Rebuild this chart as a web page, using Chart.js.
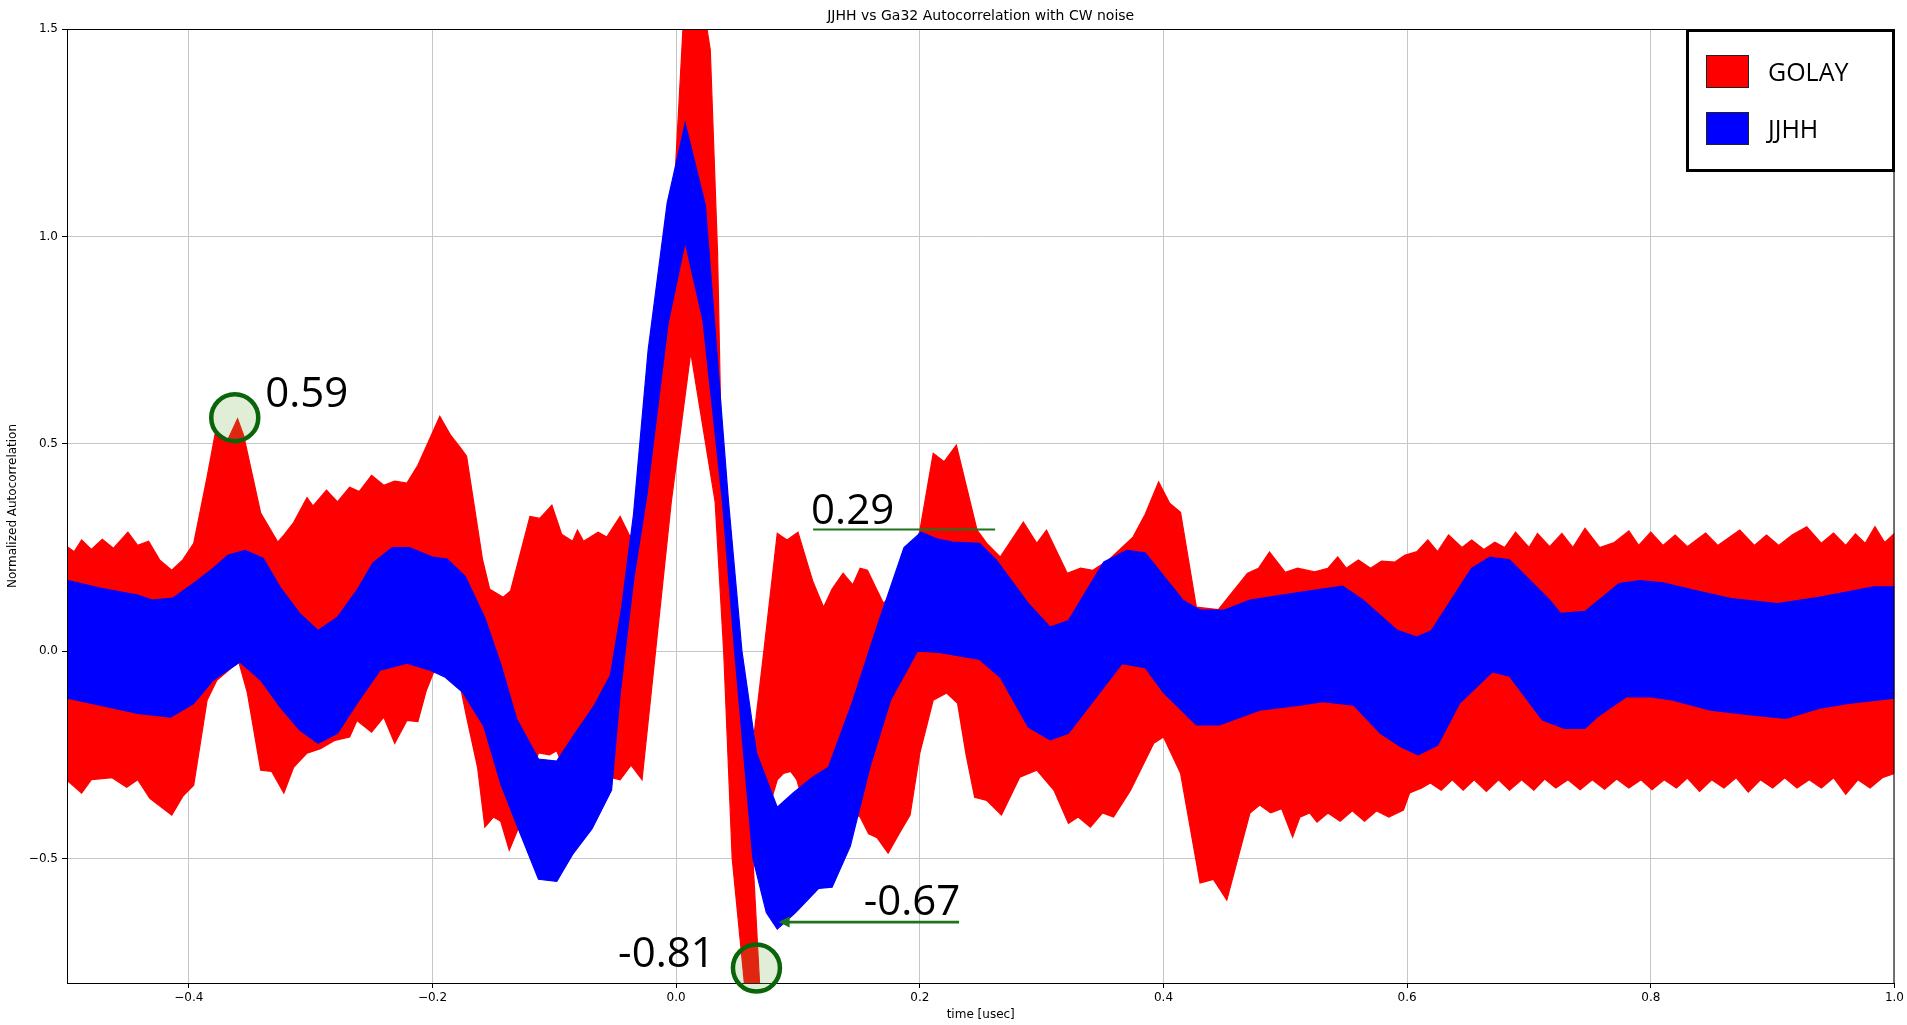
<!DOCTYPE html>
<html>
<head>
<meta charset="utf-8">
<script src="https://cdn.jsdelivr.net/npm/chart.js@4.4.0/dist/chart.umd.min.js"></script>
<style>
html,body{margin:0;padding:0;background:#fff;overflow:hidden}
#wrap{position:relative;width:1907px;height:1025px}
</style>
</head>
<body>
<div id="wrap"><canvas id="c" width="1907" height="1025"></canvas></div>
<script>
// ---------------- DATA (time in usec, normalized autocorrelation) ----------------
const chartTitle = 'JJHH vs Ga32 Autocorrelation with CW noise';
const xAxisTitle = 'time [usec]';
const yAxisTitle = 'Normalized Autocorrelation';
const timeTicks = [-0.4, -0.2, 0.0, 0.2, 0.4, 0.6, 0.8, 1.0];
const valueTicks = [-0.5, 0.0, 0.5, 1.0, 1.5];
const seriesNames = ['GOLAY', 'JJHH'];

// GOLAY bundle: envelope of the left block + main lobe
const golayMainUpper = [
[-0.51,0.25],[-0.5,0.252],[-0.494,0.24],[-0.488,0.268],[-0.48,0.245],[-0.471,0.27],[-0.462,0.248],[-0.45,0.287],[-0.442,0.255],[-0.433,0.265],[-0.424,0.22],[-0.414,0.195],[-0.405,0.22],[-0.396,0.26],[-0.385,0.42],[-0.378,0.53],[-0.368,0.51],[-0.36,0.56],[-0.355,0.52],[-0.341,0.333],[-0.327,0.263],[-0.322,0.28],[-0.314,0.31],[-0.303,0.37],[-0.298,0.35],[-0.287,0.388],[-0.278,0.36],[-0.268,0.395],[-0.26,0.385],[-0.25,0.424],[-0.24,0.4],[-0.231,0.41],[-0.221,0.405],[-0.212,0.448],[-0.194,0.566],[-0.185,0.52],[-0.177,0.49],[-0.172,0.47],[-0.159,0.222],[-0.153,0.149],[-0.142,0.13],[-0.136,0.145],[-0.12,0.325],[-0.112,0.32],[-0.102,0.352],[-0.094,0.282],[-0.085,0.265],[-0.081,0.292],[-0.076,0.265],[-0.064,0.287],[-0.057,0.275],[-0.046,0.325],[-0.038,0.277],[-0.03,0.29],[-0.0074,0.79],[0.0074,1.6],[0.02,1.6],[0.028,1.45],[0.034,0.96],[0.038,0.36],[0.048,0.0],[0.063,-0.5],[0.069,-0.83]
];
const golayMainLower = [
[-0.51,-0.31],[-0.5,-0.311],[-0.488,-0.342],[-0.48,-0.31],[-0.463,-0.305],[-0.451,-0.328],[-0.442,-0.31],[-0.432,-0.355],[-0.414,-0.395],[-0.405,-0.35],[-0.396,-0.323],[-0.385,-0.118],[-0.377,-0.07],[-0.365,-0.04],[-0.359,-0.026],[-0.352,-0.1],[-0.341,-0.287],[-0.332,-0.29],[-0.322,-0.342],[-0.314,-0.28],[-0.303,-0.246],[-0.292,-0.235],[-0.28,-0.215],[-0.268,-0.207],[-0.262,-0.167],[-0.25,-0.195],[-0.24,-0.159],[-0.231,-0.222],[-0.221,-0.167],[-0.212,-0.17],[-0.205,-0.094],[-0.199,-0.05],[-0.188,-0.05],[-0.177,-0.087],[-0.172,-0.159],[-0.163,-0.28],[-0.157,-0.424],[-0.15,-0.4],[-0.144,-0.41],[-0.137,-0.48],[-0.13,-0.43],[-0.122,-0.33],[-0.113,-0.245],[-0.104,-0.25],[-0.098,-0.24],[-0.09,-0.3],[-0.06,-0.3],[-0.046,-0.31],[-0.037,-0.275],[-0.028,-0.31],[-0.004,0.36],[0.012,0.72],[0.032,0.36],[0.039,0.0],[0.046,-0.5],[0.057,-0.83],[0.069,-0.83]
];
// GOLAY bundle: envelope right of the main lobe
const golaySideUpper = [
[0.064,-0.2],[0.072,0.0],[0.083,0.284],[0.091,0.268],[0.1,0.287],[0.112,0.17],[0.121,0.106],[0.128,0.15],[0.137,0.188],[0.145,0.16],[0.151,0.2],[0.157,0.195],[0.17,0.116],[0.185,0.15],[0.2,0.29],[0.211,0.477],[0.22,0.457],[0.23,0.497],[0.239,0.388],[0.247,0.292],[0.255,0.26],[0.266,0.227],[0.285,0.311],[0.296,0.26],[0.304,0.292],[0.321,0.188],[0.332,0.2],[0.342,0.195],[0.355,0.22],[0.375,0.275],[0.385,0.33],[0.396,0.408],[0.405,0.357],[0.414,0.335],[0.427,0.106],[0.445,0.1],[0.469,0.188],[0.478,0.2],[0.487,0.239],[0.5,0.19],[0.51,0.2],[0.524,0.191],[0.535,0.2],[0.543,0.227],[0.55,0.2],[0.56,0.22],[0.57,0.2],[0.579,0.217],[0.59,0.215],[0.598,0.231],[0.608,0.24],[0.617,0.268],[0.625,0.24],[0.634,0.28],[0.645,0.25],[0.653,0.268],[0.663,0.245],[0.672,0.263],[0.68,0.25],[0.689,0.287],[0.7,0.25],[0.707,0.284],[0.717,0.252],[0.727,0.284],[0.736,0.25],[0.746,0.296],[0.758,0.25],[0.77,0.262],[0.782,0.29],[0.79,0.255],[0.8,0.287],[0.81,0.255],[0.82,0.28],[0.83,0.252],[0.845,0.285],[0.855,0.255],[0.873,0.292],[0.885,0.255],[0.895,0.28],[0.905,0.255],[0.916,0.28],[0.928,0.3],[0.94,0.26],[0.95,0.285],[0.96,0.255],[0.968,0.283],[0.976,0.26],[0.984,0.3],[0.992,0.262],[1.0,0.284],[1.01,0.28]
];
const golaySideLower = [
[0.064,-0.25],[0.078,-0.36],[0.083,-0.31],[0.088,-0.295],[0.094,-0.29],[0.099,-0.31],[0.104,-0.36],[0.115,-0.45],[0.13,-0.45],[0.14,-0.38],[0.151,-0.4],[0.158,-0.44],[0.165,-0.45],[0.174,-0.487],[0.183,-0.44],[0.192,-0.395],[0.2,-0.246],[0.211,-0.118],[0.222,-0.101],[0.231,-0.126],[0.238,-0.25],[0.245,-0.352],[0.255,-0.36],[0.267,-0.395],[0.282,-0.304],[0.296,-0.287],[0.31,-0.335],[0.322,-0.415],[0.33,-0.4],[0.34,-0.424],[0.35,-0.39],[0.359,-0.4],[0.373,-0.335],[0.392,-0.222],[0.4,-0.207],[0.414,-0.294],[0.43,-0.559],[0.441,-0.55],[0.452,-0.6],[0.471,-0.39],[0.479,-0.371],[0.488,-0.39],[0.497,-0.38],[0.506,-0.448],[0.512,-0.4],[0.52,-0.39],[0.526,-0.412],[0.535,-0.39],[0.545,-0.41],[0.555,-0.385],[0.565,-0.41],[0.575,-0.385],[0.585,-0.4],[0.597,-0.383],[0.602,-0.342],[0.612,-0.33],[0.619,-0.318],[0.628,-0.335],[0.637,-0.31],[0.646,-0.335],[0.655,-0.31],[0.665,-0.338],[0.675,-0.31],[0.684,-0.335],[0.694,-0.31],[0.704,-0.335],[0.713,-0.308],[0.722,-0.33],[0.732,-0.31],[0.742,-0.334],[0.752,-0.31],[0.762,-0.333],[0.772,-0.308],[0.782,-0.33],[0.792,-0.31],[0.801,-0.334],[0.811,-0.31],[0.821,-0.33],[0.83,-0.306],[0.84,-0.338],[0.85,-0.31],[0.86,-0.33],[0.87,-0.305],[0.88,-0.34],[0.89,-0.31],[0.9,-0.33],[0.91,-0.305],[0.92,-0.33],[0.93,-0.31],[0.94,-0.33],[0.95,-0.305],[0.96,-0.345],[0.97,-0.31],[0.98,-0.33],[0.99,-0.305],[1.0,-0.295],[1.01,-0.3]
];
// JJHH bundle envelope
const jjhhUpper = [
[-0.51,0.17],[-0.5,0.171],[-0.473,0.152],[-0.442,0.135],[-0.43,0.123],[-0.413,0.128],[-0.396,0.164],[-0.38,0.2],[-0.368,0.231],[-0.354,0.243],[-0.339,0.224],[-0.325,0.154],[-0.309,0.091],[-0.294,0.05],[-0.278,0.082],[-0.262,0.147],[-0.249,0.212],[-0.233,0.25],[-0.219,0.25],[-0.2,0.227],[-0.188,0.222],[-0.173,0.18],[-0.157,0.08],[-0.144,-0.031],[-0.131,-0.163],[-0.113,-0.26],[-0.098,-0.265],[-0.085,-0.207],[-0.067,-0.13],[-0.054,-0.058],[-0.045,0.1],[-0.035,0.33],[-0.023,0.726],[-0.0074,1.08],[0.0074,1.273],[0.024,1.075],[0.043,0.36],[0.054,0.0],[0.066,-0.246],[0.083,-0.376],[0.096,-0.342],[0.112,-0.304],[0.125,-0.28],[0.145,-0.12],[0.165,0.06],[0.187,0.25],[0.201,0.287],[0.215,0.27],[0.227,0.263],[0.249,0.26],[0.263,0.219],[0.289,0.115],[0.307,0.058],[0.322,0.074],[0.351,0.215],[0.37,0.243],[0.385,0.237],[0.395,0.2],[0.416,0.123],[0.43,0.099],[0.45,0.099],[0.471,0.123],[0.512,0.142],[0.547,0.157],[0.564,0.123],[0.592,0.05],[0.608,0.034],[0.62,0.05],[0.653,0.2],[0.668,0.227],[0.684,0.22],[0.717,0.123],[0.726,0.091],[0.746,0.096],[0.774,0.163],[0.791,0.17],[0.81,0.165],[0.835,0.147],[0.866,0.127],[0.904,0.115],[0.938,0.13],[0.983,0.155],[1.01,0.155]
];
const jjhhLower = [
[-0.51,-0.113],[-0.5,-0.113],[-0.473,-0.13],[-0.442,-0.15],[-0.415,-0.159],[-0.396,-0.126],[-0.38,-0.07],[-0.358,-0.026],[-0.341,-0.07],[-0.325,-0.135],[-0.309,-0.19],[-0.294,-0.222],[-0.278,-0.198],[-0.262,-0.126],[-0.243,-0.046],[-0.221,-0.029],[-0.202,-0.046],[-0.19,-0.062],[-0.175,-0.1],[-0.158,-0.18],[-0.144,-0.32],[-0.13,-0.425],[-0.113,-0.55],[-0.098,-0.555],[-0.085,-0.49],[-0.069,-0.428],[-0.053,-0.335],[-0.046,-0.104],[-0.035,0.17],[-0.024,0.376],[-0.0066,0.79],[0.0074,0.986],[0.022,0.797],[0.038,0.36],[0.048,0.0],[0.063,-0.5],[0.074,-0.63],[0.083,-0.67],[0.098,-0.63],[0.117,-0.572],[0.128,-0.569],[0.143,-0.47],[0.159,-0.28],[0.176,-0.118],[0.198,0.0],[0.216,-0.003],[0.249,-0.02],[0.266,-0.063],[0.289,-0.183],[0.307,-0.214],[0.322,-0.198],[0.366,-0.03],[0.385,-0.04],[0.4,-0.1],[0.427,-0.178],[0.446,-0.178],[0.479,-0.142],[0.512,-0.13],[0.531,-0.122],[0.556,-0.13],[0.578,-0.198],[0.595,-0.231],[0.609,-0.25],[0.625,-0.227],[0.643,-0.126],[0.67,-0.05],[0.684,-0.06],[0.711,-0.166],[0.729,-0.186],[0.746,-0.186],[0.756,-0.159],[0.78,-0.11],[0.8,-0.11],[0.818,-0.118],[0.849,-0.142],[0.884,-0.154],[0.911,-0.162],[0.938,-0.138],[0.962,-0.126],[1.0,-0.113],[1.01,-0.113]
];

// annotation callouts (data coordinates)
const calloutTexts = ['0.59', '0.29', '-0.67', '-0.81'];
const calloutT = [-0.3356, 0.1124, 0.1556, -0.046];
const calloutV = [0.588, 0.306, -0.6365, -0.762];
const circleT = [-0.3623, 0.0659];
const circleV = [0.563, -0.764];
const underlineT = [0.1124, 0.2618]; const underlineV = 0.2934;
const arrowT = [0.2322, 0.0841]; const arrowV = -0.653;

// ---------------- CHART ----------------
const RED = '#ff0000', BLUE = '#0000ff';
const toXY = a => a.map(p => ({x: p[0], y: p[1]}));
function band(label, data, color, fill, order) {
  return {label, data: toXY(data), borderColor: color, backgroundColor: color,
          borderWidth: 1.2, pointRadius: 0, fill, order, tension: 0};
}
const fmt = v => (v < 0 ? '\u2212' : '') + Math.abs(v).toFixed(1);

const overlay = {
  id: 'overlay',
  afterDraw(chart) {
    const {ctx, chartArea: a, scales: {x, y}} = chart;
    ctx.save();
    // frame
    ctx.strokeStyle = '#000'; ctx.lineWidth = 1;
    ctx.strokeRect(a.left + 0.5, a.top + 0.5, a.right - a.left - 1, a.bottom - a.top);
    // titles
    ctx.fillStyle = '#000';
    ctx.textAlign = 'center'; ctx.textBaseline = 'middle';
    ctx.font = '14px "DejaVu Sans"';
    ctx.fillText(chartTitle, (a.left + a.right) / 2, 16);
    ctx.font = '12px "DejaVu Sans"';
    ctx.fillText(xAxisTitle, (a.left + a.right) / 2, 1015);
    ctx.save();
    ctx.translate(13, (a.top + a.bottom) / 2);
    ctx.rotate(-Math.PI / 2);
    ctx.fillText(yAxisTitle, 0, 0);
    ctx.restore();

    // circles
    const green = 'rgb(10,100,10)';
    for (let i = 0; i < circleT.length; i++) {
      const cx = x.getPixelForValue(circleT[i]), cy = y.getPixelForValue(circleV[i]);
      ctx.beginPath(); ctx.arc(cx, cy, 23.5, 0, Math.PI * 2);
      ctx.fillStyle = 'rgba(112,173,71,0.22)'; ctx.fill();
      ctx.lineWidth = 4.5; ctx.strokeStyle = green; ctx.stroke();
    }
    // underline for 0.29
    ctx.strokeStyle = 'rgb(30,115,30)'; ctx.lineWidth = 2;
    ctx.beginPath();
    ctx.moveTo(x.getPixelForValue(underlineT[0]), y.getPixelForValue(underlineV));
    ctx.lineTo(x.getPixelForValue(underlineT[1]), y.getPixelForValue(underlineV));
    ctx.stroke();
    // arrow for -0.67
    const ay = y.getPixelForValue(arrowV);
    const ax0 = x.getPixelForValue(arrowT[0]), ax1 = x.getPixelForValue(arrowT[1]);
    ctx.lineWidth = 2.8;
    ctx.beginPath(); ctx.moveTo(ax0, ay); ctx.lineTo(ax1 + 8, ay); ctx.stroke();
    ctx.fillStyle = 'rgb(30,115,30)';
    ctx.beginPath(); ctx.moveTo(ax1, ay); ctx.lineTo(ax1 + 11, ay - 5.5); ctx.lineTo(ax1 + 11, ay + 5.5); ctx.closePath(); ctx.fill();
    // callout texts
    ctx.fillStyle = '#000'; ctx.textAlign = 'left'; ctx.textBaseline = 'alphabetic';
    ctx.font = '42px "Open Sans"';
    for (let i = 0; i < calloutTexts.length; i++) {
      ctx.fillText(calloutTexts[i], x.getPixelForValue(calloutT[i]) - 2, y.getPixelForValue(calloutV[i]));
    }
    // legend
    const lx = 1686, ly = 29, lw = 209, lh = 143;
    ctx.fillStyle = '#fff'; ctx.fillRect(lx, ly, lw, lh);
    ctx.lineWidth = 3; ctx.strokeStyle = '#000'; ctx.strokeRect(lx + 1.5, ly + 1.5, lw - 3, lh - 3);
    const colors = [RED, BLUE];
    const rowY = [55, 112];
    const textY = [81, 138];
    ctx.font = '25px "Open Sans"';
    for (let i = 0; i < seriesNames.length; i++) {
      ctx.fillStyle = colors[i]; ctx.fillRect(1706, rowY[i], 43, 33);
      ctx.lineWidth = 1; ctx.strokeStyle = '#222'; ctx.strokeRect(1706.5, rowY[i] + 0.5, 42, 32);
      ctx.fillStyle = '#000'; ctx.fillText(seriesNames[i], 1768, textY[i]);
    }
    ctx.restore();
  }
};

new Chart(document.getElementById('c'), {
  type: 'line',
  data: {
    datasets: [
      band(seriesNames[0], golayMainUpper, RED, '+1', 2),
      band(seriesNames[0], golayMainLower, RED, false, 2),
      band(seriesNames[0], golaySideUpper, RED, '+1', 2),
      band(seriesNames[0], golaySideLower, RED, false, 2),
      band(seriesNames[1], jjhhUpper, BLUE, '+1', 1),
      band(seriesNames[1], jjhhLower, BLUE, false, 1)
    ]
  },
  options: {
    responsive: false,
    animation: false,
    devicePixelRatio: 1,
    events: [],
    layout: {padding: {left: 0, right: 12, top: 29, bottom: 0}},
    plugins: {legend: {display: false}, tooltip: {enabled: false}, title: {display: false}},
    scales: {
      x: {
        type: 'linear', min: -0.5, max: 1.0,
        afterBuildTicks: s => { s.ticks = timeTicks.map(v => ({value: v})); },
        afterFit: s => { s.height = 42; },
        ticks: {callback: v => fmt(v), color: '#000', padding: 3, maxRotation: 0,
                font: {family: 'DejaVu Sans', size: 12}},
        grid: {color: '#c6c6c6', lineWidth: 1, tickLength: 5, tickColor: '#000', drawTicks: true},
        border: {display: false}
      },
      y: {
        type: 'linear', min: -0.8, max: 1.5,
        afterBuildTicks: s => { s.ticks = valueTicks.map(v => ({value: v})); },
        afterFit: s => { s.width = 67; },
        ticks: {callback: v => fmt(v), color: '#000', padding: 4,
                font: {family: 'DejaVu Sans', size: 12}},
        grid: {color: '#c6c6c6', lineWidth: 1, tickLength: 5, tickColor: '#000', drawTicks: true},
        border: {display: false}
      }
    }
  },
  plugins: [overlay]
});
</script>
</body>
</html>
